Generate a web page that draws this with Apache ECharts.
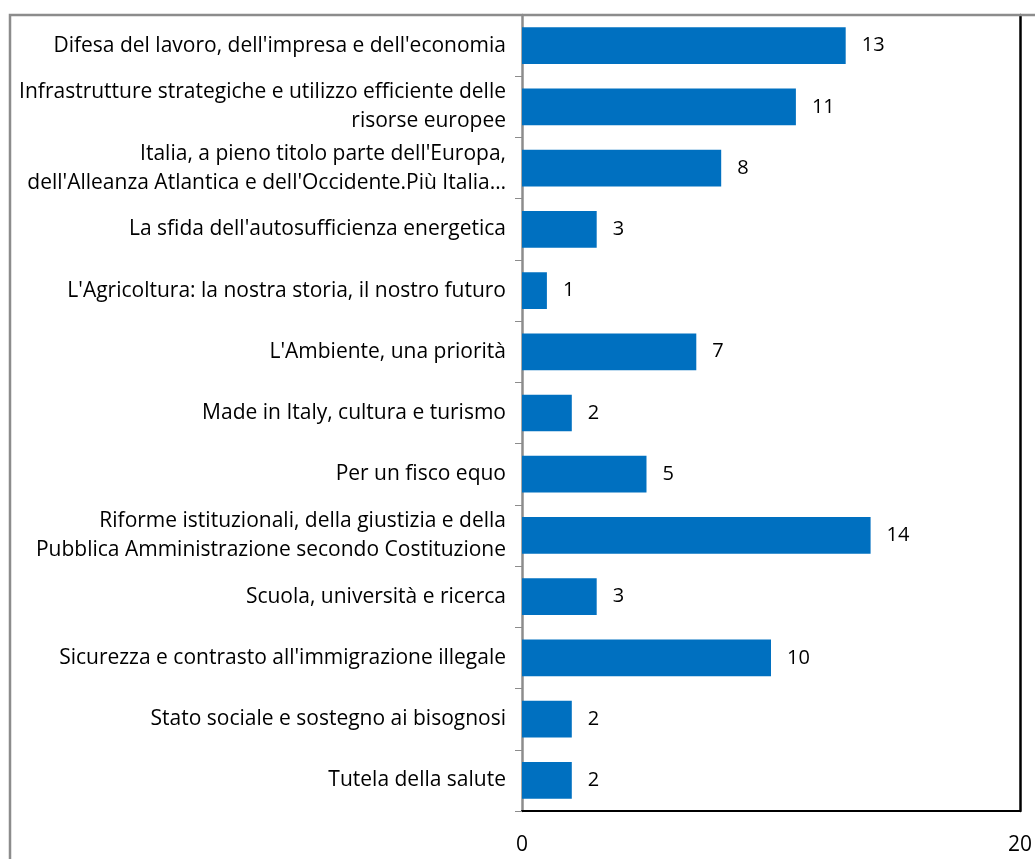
<!DOCTYPE html>
<html>
<head>
<meta charset="utf-8">
<script src="https://cdn.jsdelivr.net/npm/echarts@6/dist/echarts.min.js"></script>
<style>
  html, body { margin: 0; padding: 0; background: #fff; }
  #chart { width: 1035px; height: 859px; }
</style>
</head>
<body>
<div id="chart"></div>
<script>
  // categorie (dall'alto in basso)
  var categories = [
    "Difesa del lavoro, dell'impresa e dell'economia",
    "Infrastrutture strategiche e utilizzo efficiente delle\nrisorse europee",
    "Italia, a pieno titolo parte dell'Europa,\ndell'Alleanza Atlantica e dell'Occidente.Più Italia…",
    "La sfida dell'autosufficienza energetica",
    "L'Agricoltura: la nostra storia, il nostro futuro",
    "L'Ambiente, una priorità",
    "Made in Italy, cultura e turismo",
    "Per un fisco equo",
    "Riforme istituzionali, della giustizia e della\nPubblica Amministrazione secondo Costituzione",
    "Scuola, università e ricerca",
    "Sicurezza e contrasto all'immigrazione illegale",
    "Stato sociale e sostegno ai bisognosi",
    "Tutela della salute"
  ];
  var values = [13, 11, 8, 3, 1, 7, 2, 5, 14, 3, 10, 2, 2];
  var xMin = 0, xMax = 20;

  var font = "Open Sans";
  var chart = echarts.init(document.getElementById('chart'));
  chart.setOption({
    animation: false,
    textStyle: { fontFamily: font },
    grid: { left: 522, right: 14, top: 15, bottom: 48, containLabel: false },
    graphic: [{
      type: 'rect',
      z: 100,
      shape: { x: 10, y: 15, width: 1100, height: 1000 },
      style: { fill: 'none', stroke: '#8c8c8c', lineWidth: 2.5 }
    }],
    xAxis: {
      type: 'value',
      min: xMin, max: xMax, interval: 20,
      axisLine: { show: true, lineStyle: { color: '#000', width: 2 } },
      axisTick: { show: false },
      splitLine: { show: false },
      axisLabel: { color: '#000', fontSize: 21, margin: 24, fontFamily: font }
    },
    yAxis: [{
      type: 'category',
      inverse: true,
      data: categories,
      axisLine: { show: true, lineStyle: { color: '#8c8c8c', width: 2.5 } },
      axisTick: { show: true, length: 7, lineStyle: { color: '#8c8c8c', width: 1 } },
      axisLabel: { color: '#000', fontSize: 21, margin: 16, lineHeight: 29, fontFamily: font }
    }, {
      type: 'category',
      position: 'right',
      inverse: true,
      data: categories,
      axisLine: { show: true, lineStyle: { color: '#000', width: 2.5 } },
      axisTick: { show: false },
      axisLabel: { show: false }
    }],
    series: [{
      type: 'bar',
      data: values,
      barCategoryGap: '40%',
      itemStyle: { color: '#0070C0' },
      label: {
        show: true, position: 'right', distance: 16,
        color: '#000', fontSize: 20, fontFamily: font
      }
    }]
  });
</script>
</body>
</html>
